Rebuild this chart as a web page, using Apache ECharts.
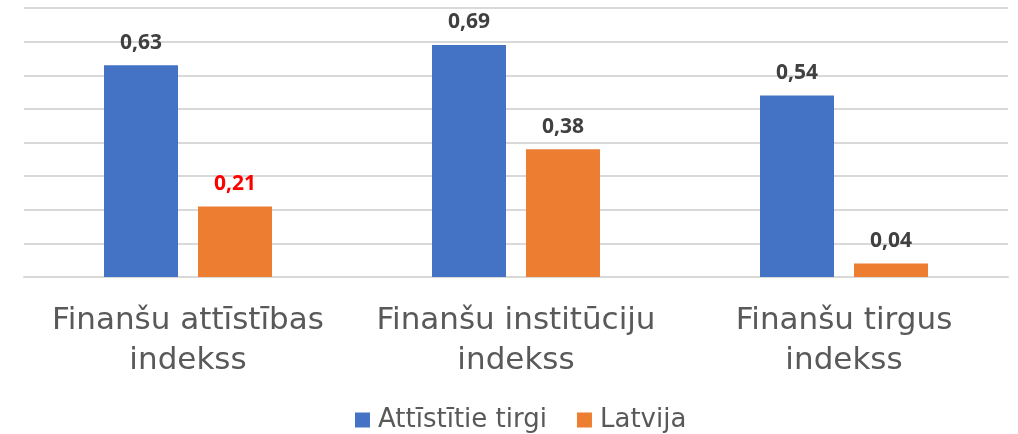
<!DOCTYPE html>
<html>
<head>
<meta charset="utf-8">
<script src="https://cdn.jsdelivr.net/npm/echarts@6/dist/echarts.min.js"></script>
<style>
  html, body { margin: 0; padding: 0; background: #fff; }
  #chart { width: 1018px; height: 434px; }
</style>
</head>
<body>
<div id="chart"></div>
<script>
const categories = ["Finanšu attīstības\nindekss", "Finanšu institūciju\nindekss", "Finanšu tirgus\nindekss"];
const developed = [0.63, 0.69, 0.54];
const latvia = [0.21, 0.38, 0.04];
const seriesNames = ["Attīstītie tirgi", "Latvija"];

const fmt = (p) => p.value.toFixed(2).replace(".", ",");

const labelStyle = {
  show: true,
  position: "top",
  distance: 12,
  formatter: fmt,
  fontFamily: "Open Sans",
  fontWeight: 700,
  fontSize: 21,
  color: "#404040"
};

const chart = echarts.init(document.getElementById("chart"));
chart.setOption({
  animation: false,
  grid: { left: 24, right: 10, top: 8, bottom: 157 },
  legend: {
    top: 402,
    left: 350,
    itemWidth: 15,
    itemHeight: 15,
    itemGap: 30,
    icon: "rect",
    textStyle: { fontFamily: "DejaVu Sans", fontSize: 26, color: "#595959", padding: [0, 0, 0, 3] },
    data: seriesNames
  },
  xAxis: {
    type: "category",
    data: categories,
    axisLine: { show: true, lineStyle: { color: "#D9D9D9", width: 2 } },
    axisTick: { show: false },
    axisLabel: {
      interval: 0,
      fontFamily: "DejaVu Sans",
      fontSize: 31,
      lineHeight: 40,
      color: "#595959",
      margin: 24
    }
  },
  yAxis: {
    type: "value",
    min: 0,
    max: 0.8,
    interval: 0.1,
    axisLabel: { show: false },
    axisLine: { show: false },
    axisTick: { show: false },
    splitLine: { lineStyle: { color: "#D9D9D9", width: 2 } }
  },
  series: [
    {
      name: seriesNames[0],
      type: "bar",
      data: developed,
      barWidth: 74,
      barGap: "27%",
      itemStyle: { color: "#4472C4" },
      label: labelStyle
    },
    {
      name: seriesNames[1],
      type: "bar",
      data: latvia.map((v, i) => i === 0
        ? { value: v, label: { color: "#FF0000" } }
        : v),
      barWidth: 74,
      itemStyle: { color: "#ED7D31" },
      label: labelStyle
    }
  ]
});
</script>
</body>
</html>
